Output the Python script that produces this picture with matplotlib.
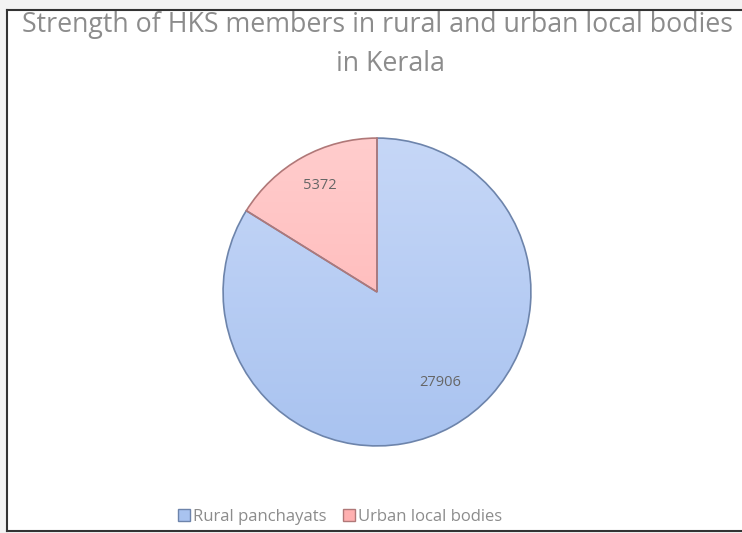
import numpy as np
import matplotlib.pyplot as plt
from matplotlib.lines import Line2D
from matplotlib.patches import Rectangle
from matplotlib.colors import to_rgb

labels = ['Rural panchayats', 'Urban local bodies']
values = [27906, 5372]
top_colors = ['#c6d7f7', '#ffcdcd']
bottom_colors = ['#a9c3f0', '#ffb0b0']
edge_colors = ['#6d84ab', '#b07878']
title_lines = ['Strength of HKS members in rural and urban local bodies', 'in Kerala']

W, H = 742, 533
fig = plt.figure(figsize=(W / 100, H / 100), dpi=100)
fig.patch.set_facecolor('#f3f3f3')

# white chart area with frame (right edge is cut off in the original)
fig.add_artist(Rectangle((7 / W, 1 - 531 / H), 1, (531 - 10) / H, facecolor='white',
                         edgecolor='none', zorder=0))
fig.add_artist(Line2D([7 / W, 7 / W], [1 - 10 / H, 1 - 531 / H], color='#333333', lw=1.5))
fig.add_artist(Line2D([7 / W, 1], [1 - 10 / H, 1 - 10 / H], color='#333333', lw=1.5))
fig.add_artist(Line2D([7 / W, 1], [1 - 531 / H, 1 - 531 / H], color='#333333', lw=1.5))

cx, cy, r = 377, 292, 157
ax = fig.add_axes([(cx - r) / W, (H - cy - r) / H, 2 * r / W, 2 * r / H])
wedges, texts = ax.pie(values, startangle=90, counterclock=False, radius=1,
                       colors=top_colors, wedgeprops=dict(linewidth=1.2))
ax.set_xlim(-1.02, 1.02)
ax.set_ylim(-1.02, 1.02)
ax.set_aspect('equal')
ax.axis('off')

# vertical gradient fill clipped to each wedge
for w, c0, c1, ec in zip(wedges, top_colors, bottom_colors, edge_colors):
    w.set_edgecolor(ec)
    a = np.array(to_rgb(c0))
    b = np.array(to_rgb(c1))
    t = np.linspace(0, 1, 256)[:, None]
    grad = (a * (1 - t) + b * t)[:, None, :]
    im = ax.imshow(grad, extent=[-1, 1, -1, 1], origin='upper', aspect='auto',
                   zorder=w.get_zorder())
    im.set_clip_path(w)
    w.set_facecolor('none')
    w.set_zorder(w.get_zorder() + 1)

ax.text(-0.37, 0.69, str(values[1]), ha='center', va='center', fontsize=10.5,
        color='#666666', family='Open Sans')
ax.text(0.41, -0.59, str(values[0]), ha='center', va='center', fontsize=10.5,
        color='#666666', family='Open Sans')

fig.text(378 / W, 1 - 25 / H, title_lines[0], ha='center', va='center',
         fontsize=19.3, color='#8c8c8c', family='Open Sans')
fig.text(390 / W, 1 - 64 / H, title_lines[1], ha='center', va='center',
         fontsize=19.3, color='#8c8c8c', family='Open Sans')

# legend
handles = [Rectangle((0, 0), 1, 1, facecolor=c, edgecolor=e, lw=1)
           for c, e in zip(bottom_colors, edge_colors)]
fig.legend(handles, labels, loc='center', bbox_to_anchor=(340 / W, 1 - 517 / H), ncol=2,
           frameon=False, labelcolor='#8c8c8c', handlelength=0.7,
           handleheight=0.7, handletextpad=0.2, columnspacing=1.0,
           prop=dict(family='Open Sans', size=12))

fig.savefig('out.png', dpi=100, facecolor=fig.get_facecolor())
